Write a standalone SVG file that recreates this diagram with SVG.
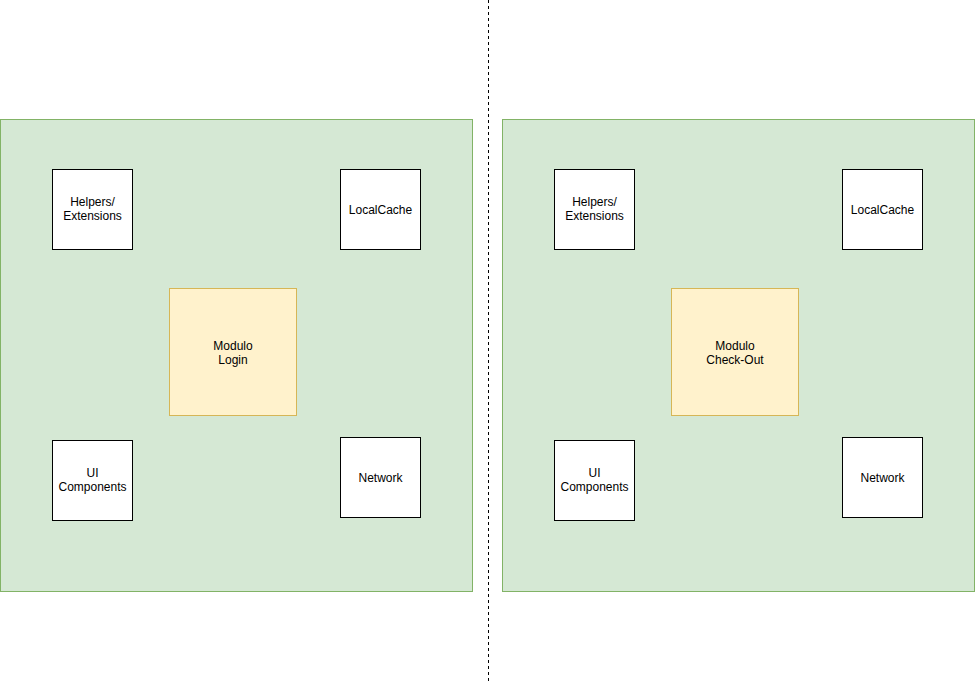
<svg xmlns="http://www.w3.org/2000/svg" width="975" height="683" viewBox="0 0 975 683">
<style>
.bg{fill:#ffffff}
.container{fill:#d5e8d4;stroke:#82b366;stroke-width:1}
.box{fill:#ffffff;stroke:#000000;stroke-width:1}
.mod{fill:#fff2cc;stroke:#d6b656;stroke-width:1}
.sep{stroke:#000000;stroke-width:1;stroke-dasharray:3 3;fill:none}
text{font-family:"Liberation Sans",Arial,Helvetica,sans-serif;font-size:12px;fill:#000000;text-anchor:middle}
</style>
<rect class="bg" x="0" y="0" width="975" height="683"/>
<g id="connectors">
<line class="sep" x1="488.5" y1="0" x2="488.5" y2="683"/>
</g>
<g id="container-left"><rect class="container" x="0.5" y="119.5" width="472" height="472"/></g>
<g id="container-right"><rect class="container" x="502.5" y="119.5" width="472" height="472"/></g>
<g id="helpers-left"><rect class="box" x="52.5" y="169.5" width="80" height="80"/><text x="92.5" y="206">Helpers/</text><text x="92.5" y="220">Extensions</text></g>
<g id="localcache-left"><rect class="box" x="340.5" y="169.5" width="80" height="80"/><text x="380.5" y="213.5">LocalCache</text></g>
<g id="modulo-login"><rect class="mod" x="169.5" y="288.5" width="127" height="127"/><text x="233" y="350">Modulo</text><text x="233" y="364">Login</text></g>
<g id="ui-left"><rect class="box" x="52.5" y="440.5" width="80" height="80"/><text x="92.5" y="477">UI</text><text x="92.5" y="491">Components</text></g>
<g id="network-left"><rect class="box" x="340.5" y="437.5" width="80" height="80"/><text x="380.5" y="481.5">Network</text></g>
<g id="helpers-right"><rect class="box" x="554.5" y="169.5" width="80" height="80"/><text x="594.5" y="206">Helpers/</text><text x="594.5" y="220">Extensions</text></g>
<g id="localcache-right"><rect class="box" x="842.5" y="169.5" width="80" height="80"/><text x="882.5" y="213.5">LocalCache</text></g>
<g id="modulo-checkout"><rect class="mod" x="671.5" y="288.5" width="127" height="127"/><text x="735" y="350">Modulo</text><text x="735" y="364">Check-Out</text></g>
<g id="ui-right"><rect class="box" x="554.5" y="440.5" width="80" height="80"/><text x="594.5" y="477">UI</text><text x="594.5" y="491">Components</text></g>
<g id="network-right"><rect class="box" x="842.5" y="437.5" width="80" height="80"/><text x="882.5" y="481.5">Network</text></g>
</svg>
